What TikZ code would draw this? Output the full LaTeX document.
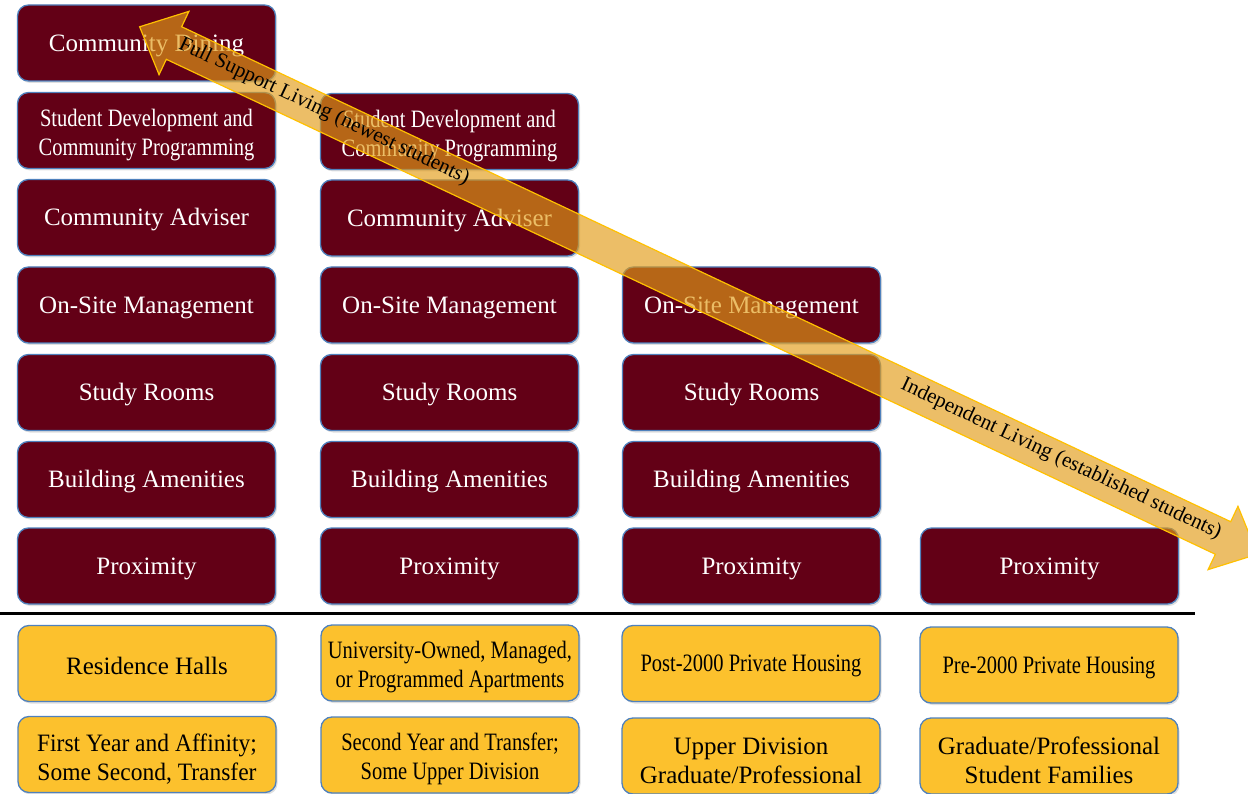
\documentclass[tikz,border=0pt]{standalone}
\usepackage{fontspec}
\setmainfont{Liberation Serif}
\newfontfamily\narrowfont[FakeStretch=0.82]{Liberation Serif}
\newfontfamily\semifont[FakeStretch=0.94]{Liberation Serif}
\usetikzlibrary{shadows}

\definecolor{maroon}{RGB}{99,0,22}
\definecolor{gold}{RGB}{252,193,45}
\definecolor{boxline}{RGB}{79,129,189}
\definecolor{bandfill}{RGB}{226,156,24}
\definecolor{bandline}{RGB}{255,192,0}

\tikzset{
  box/.style={rounded corners=11pt, draw=boxline, line width=1.3pt,
    minimum width=258pt, minimum height=76pt, inner sep=0pt, align=center,
    font=\fontsize{25}{29}\selectfont,
    execute at begin node={\rule{0pt}{21.5pt}},
    drop shadow={shadow xshift=1.5pt, shadow yshift=-2pt, opacity=0.25}},
  service/.style={box, fill=maroon, text=white},
  housing/.style={box, fill=gold, text=black},
  narrow/.style={font=\narrowfont\fontsize{25}{29}\selectfont},
  semi/.style={font=\semifont\fontsize{25}{29}\selectfont},
  twoline/.style={execute at begin node={\rule{0pt}{55pt}}},
  band/.style={fill=bandfill, fill opacity=0.66, draw=bandline, line width=1.2pt},
  bandtext/.style={font=\fontsize{21}{24}\selectfont, inner sep=0pt},
}

\begin{document}
\begin{tikzpicture}[x=1pt,y=-1pt]
\useasboundingbox (0,0) rectangle (1248,794);
\clip (0,0) rectangle (1248,794);

% first column
\node[service] (dining1) at (146.5,43) {Community Dining};
\node[service, narrow, twoline] (devel1) at (146.5,130.5) {Student Development and\\Community Programming};
\node[service] (adviser1) at (146.5,217.5) {Community Adviser};

% second column
\node[service, narrow, twoline] (devel2) at (449.5,131.5) {Student Development and\\Community Programming};
\node[service] (adviser2) at (449.5,218) {Community Adviser};

% rows shared by several columns
\foreach \c/\x in {1/146.5, 2/449.5, 3/751.5} {
  \node[service] (onsite\c) at (\x,305) {On-Site Management};
  \node[service] (study\c) at (\x,392.5) {Study Rooms};
  \node[service] (amenity\c) at (\x,479.5) {Building Amenities};
}
\foreach \c/\x in {1/146.5, 2/449.5, 3/751.5, 4/1049.5}
  \node[service] (proximity\c) at (\x,566) {Proximity};

% divider
\draw[line width=3pt] (0,613) -- (1195,613);

% housing types
\node[housing] (halls) at (147,663.5) {Residence Halls};
\node[housing, narrow, twoline] (apartments) at (450,663) {University-Owned, Managed,\\or Programmed Apartments};
\node[housing, narrow] (post) at (751,663.5) {Post-2000 Private Housing};
\node[housing, narrow] (pre) at (1049,665) {Pre-2000 Private Housing};

% residents
\node[housing, semi, twoline] (first) at (147,754.5) {First Year and Affinity;\\Some Second, Transfer};
\node[housing, narrow, twoline] (second) at (450,755) {Second Year and Transfer;\\Some Upper Division};
\node[housing, twoline] (upper) at (751,756) {Upper Division\\Graduate/Professional};
\node[housing, twoline] (graduate) at (1049,756) {Graduate/Professional\\Student Families};

% double arrow
\begin{scope}[shift={(698.5,290.5)}, rotate=-25.26]
\filldraw[band] (-618,0) -- (-580,35) -- (-580,18) -- (580,18) -- (580,35) -- (618,0)
  -- (580,-35) -- (580,-18) -- (-580,-18) -- (-580,-35) -- cycle;
\node[bandtext, rotate=-25.26] (fullsupport) at (-415,-2) {Full Support Living (newest students)};
\node[bandtext, rotate=-25.26] (independent) at (400,-2) {Independent Living (established students)};
\end{scope}
\end{tikzpicture}
\end{document}
